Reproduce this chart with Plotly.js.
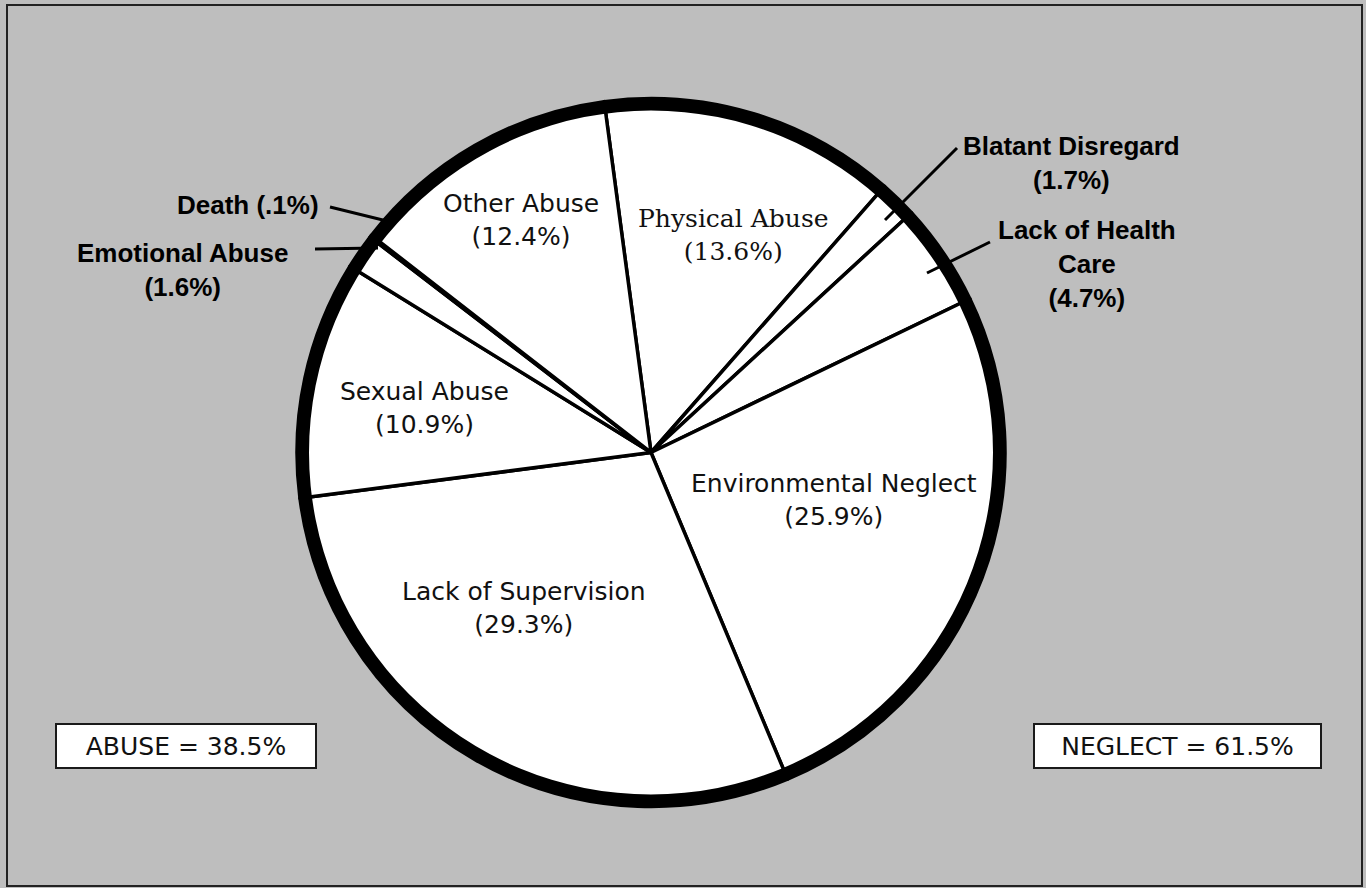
<!DOCTYPE html>
<html>
<head>
<meta charset="utf-8">
<script src="https://cdn.plot.ly/plotly-3.0.1.min.js"></script>
<style>
  html, body { margin: 0; padding: 0; background: #bebebe; }
  #chart { width: 1366px; height: 888px; }
</style>
</head>
<body>
<div id="chart"></div>
<script>
// ---- DATA ----
const categories = ['Physical Abuse', 'Blatant Disregard', 'Lack of Health Care', 'Environmental Neglect',
                    'Lack of Supervision', 'Sexual Abuse', 'Emotional Abuse', 'Death', 'Other Abuse'];
const percents = [13.6, 1.7, 4.7, 25.9, 29.3, 10.9, 1.6, 0.1, 12.4];
const groups = ['ABUSE', 'NEGLECT'];
const groupPercents = [38.5, 61.5];

// ---- LAYOUT / STYLE CONFIG (pixel positions of labels) ----
const W = 1366, H = 888;
const px = x => x / W;
const py = y => 1 - y / H;

const fonts = {
  light: { family: 'DejaVu Sans, sans-serif', size: 25, color: '#111' },
  serif: { family: 'DejaVu Serif, serif', size: 25, color: '#111' },
  bold:  { family: 'Liberation Sans, Arial, sans-serif', size: 26, color: '#000', weight: 'bold' }
};

const labelLayout = {
  'Physical Abuse':        { x: 733,  y: 235, font: 'serif' },
  'Blatant Disregard':     { x: 1071, y: 163, font: 'bold' },
  'Lack of Health Care':   { x: 1087, y: 264, font: 'bold', wrap: 'Lack of Health<br>Care' },
  'Environmental Neglect': { x: 834,  y: 500, font: 'light' },
  'Lack of Supervision':   { x: 524,  y: 608, font: 'light' },
  'Sexual Abuse':          { x: 424,  y: 408, font: 'light' },
  'Emotional Abuse':       { x: 182,  y: 270, font: 'bold' },
  'Death':                 { x: 248,  y: 205, font: 'bold', inline: true },
  'Other Abuse':           { x: 521,  y: 220, font: 'light' }
};

const leaderLines = {
  'Death':               [330, 207, 395, 223],
  'Emotional Abuse':     [315, 249, 378, 248],
  'Blatant Disregard':   [957, 148, 885, 220],
  'Lack of Health Care': [990, 242, 927, 273]
};

const groupBoxes = {
  'ABUSE':   { x: 186,    y: 746,   w: 258, h: 42 },
  'NEGLECT': { x: 1177.5, y: 745.5, w: 285, h: 42 }
};

// pie geometry (pixels)
const cx = 651, cy = 452.5, R = 354, ringWidth = 12;

function fmtPct(v) {
  return v < 1 ? String(v).replace(/^0/, '') : v.toFixed(1);
}

const domain = { x: [px(cx - R), px(cx + R)], y: [py(cy + R), py(cy - R)] };

const pieTrace = {
  type: 'pie',
  labels: categories,
  values: percents,
  sort: false,
  direction: 'clockwise',
  rotation: -7.6,
  domain: domain,
  marker: { colors: categories.map(() => '#ffffff'), line: { color: '#000', width: 3.5 } },
  textinfo: 'none',
  hoverinfo: 'label+value',
  showlegend: false
};

const ringTrace = {
  type: 'pie',
  labels: ['total'],
  values: [percents.reduce((a, b) => a + b, 0)],
  sort: false,
  hole: 1 - ringWidth / R,
  domain: domain,
  marker: { colors: ['#000'], line: { width: 0 } },
  textinfo: 'none',
  hoverinfo: 'skip',
  showlegend: false
};

const annotations = categories.map((c, i) => {
  const L = labelLayout[c];
  const name = L.wrap || c;
  const pct = '(' + fmtPct(percents[i]) + '%)';
  const text = L.inline ? name + ' ' + pct : name + '<br>' + pct;
  return {
    xref: 'paper', yref: 'paper', x: px(L.x), y: py(L.y),
    xanchor: 'center', yanchor: 'middle', align: 'center',
    text: text, showarrow: false, font: fonts[L.font]
  };
});

groups.forEach((g, i) => {
  const B = groupBoxes[g];
  annotations.push({
    xref: 'paper', yref: 'paper', x: px(B.x), y: py(B.y),
    xanchor: 'center', yanchor: 'middle', align: 'center', valign: 'middle',
    text: g + ' = ' + groupPercents[i] + '%', showarrow: false,
    width: B.w, height: B.h, borderpad: 0,
    bgcolor: '#ffffff', bordercolor: '#1a1a1a', borderwidth: 2,
    font: { family: 'DejaVu Sans, sans-serif', size: 25, color: '#111' }
  });
});

const shapes = Object.keys(leaderLines).map(k => {
  const [x0, y0, x1, y1] = leaderLines[k];
  return {
    type: 'line', xref: 'paper', yref: 'paper',
    x0: px(x0), y0: py(y0), x1: px(x1), y1: py(y1),
    line: { color: '#000', width: 3 }
  };
});
// outer frame
shapes.push({
  type: 'rect', xref: 'paper', yref: 'paper',
  x0: px(7), y0: py(886), x1: px(1362), y1: py(5),
  line: { color: '#222', width: 2 }
});

const layout = {
  width: W, height: H,
  margin: { l: 0, r: 0, t: 0, b: 0 },
  paper_bgcolor: '#bebebe',
  plot_bgcolor: '#bebebe',
  showlegend: false,
  annotations: annotations,
  shapes: shapes
};

Plotly.newPlot('chart', [pieTrace, ringTrace], layout, { displayModeBar: false, staticPlot: true });
</script>
</body>
</html>
